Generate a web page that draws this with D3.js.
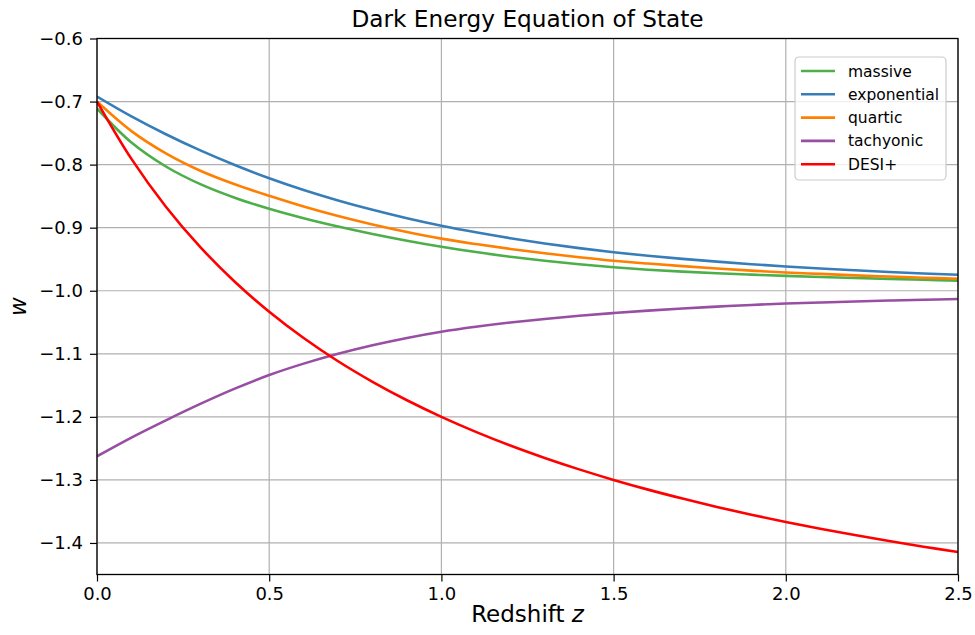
<!DOCTYPE html>
<html>
<head>
<meta charset="utf-8">
<script src="https://cdn.jsdelivr.net/npm/d3@7"></script>
<style>
  html, body { margin: 0; padding: 0; background: #fff; }
  svg { display: block; font-family: "DejaVu Sans", sans-serif; }
</style>
</head>
<body>
<svg id="chart" width="975" height="635"></svg>
<script>
// Redshift grid shared by all curves
const redshift = [0.0, 0.1, 0.2, 0.3, 0.4, 0.5, 0.6, 0.7, 0.8, 0.9, 1.0, 1.1, 1.2,
                  1.3, 1.4, 1.5, 1.6, 1.7, 1.8, 1.9, 2.0, 2.1, 2.2, 2.3, 2.4, 2.5];

// Equation-of-state w(z) for each model
const massive = [-0.711, -0.7650, -0.8030, -0.8310, -0.8525, -0.8700, -0.8850, -0.8982,
                 -0.9100, -0.9206, -0.9302, -0.9387, -0.9461, -0.9525, -0.9580, -0.9628,
                 -0.9666, -0.9697, -0.9723, -0.9745, -0.9764, -0.9781, -0.9797, -0.9812,
                 -0.9826, -0.9839];
const exponential = [-0.692, -0.7235, -0.7518, -0.7775, -0.8006, -0.8216, -0.8402, -0.8568,
                     -0.8717, -0.8851, -0.8970, -0.9074, -0.9167, -0.9250, -0.9324, -0.9390,
                     -0.9446, -0.9495, -0.9539, -0.9579, -0.9615, -0.9647, -0.9675, -0.9702,
                     -0.9726, -0.9747];
const quartic = [-0.700, -0.7469, -0.7822, -0.8097, -0.8312, -0.8495, -0.8665, -0.8816,
                 -0.8950, -0.9069, -0.9174, -0.9260, -0.9337, -0.9406, -0.9468, -0.9524,
                 -0.9569, -0.9610, -0.9647, -0.9681, -0.9710, -0.9733, -0.9756, -0.9775,
                 -0.9794, -0.9810];
const tachyonic = [-1.2625, -1.2328, -1.2055, -1.1795, -1.1553, -1.1337, -1.1156, -1.1000,
                   -1.0865, -1.0748, -1.0650, -1.0571, -1.0504, -1.0447, -1.0397, -1.0354,
                   -1.0315, -1.0281, -1.0252, -1.0225, -1.0203, -1.0186, -1.0170, -1.0156,
                   -1.0143, -1.0132];
const desiPlus = [-0.7000, -0.7909, -0.8667, -0.9308, -0.9857, -1.0333, -1.0750, -1.1118,
                  -1.1444, -1.1737, -1.2000, -1.2238, -1.2455, -1.2652, -1.2833, -1.3000,
                  -1.3154, -1.3296, -1.3429, -1.3552, -1.3667, -1.3774, -1.3875, -1.3970,
                  -1.4059, -1.4143];

const seriesNames = ["massive", "exponential", "quartic", "tachyonic", "DESI+"];
const seriesValues = [massive, exponential, quartic, tachyonic, desiPlus];
const seriesColors = ["#4daf4a", "#377eb8", "#ff7f00", "#984ea3", "#ff0000"];

const xTicks = [0.0, 0.5, 1.0, 1.5, 2.0, 2.5];
const yTicks = [-0.6, -0.7, -0.8, -0.9, -1.0, -1.1, -1.2, -1.3, -1.4];

const titleText = "Dark Energy Equation of State";

// ---- layout ----
const margin = { left: 97, right: 17, top: 38.5, bottom: 60.5 };
const W = 975, H = 635;
const pw = W - margin.left - margin.right;
const ph = H - margin.top - margin.bottom;

const svg = d3.select("#chart");
const g = svg.append("g").attr("transform", `translate(${margin.left},${margin.top})`);

const x = d3.scaleLinear().domain([0, 2.5]).range([0, pw]);
const y = d3.scaleLinear().domain([-1.45, -0.6]).range([ph, 0]);

const fmt = v => d3.format(".1f")(v).replace("-", "\u2212");

// grid
g.append("g").selectAll("line").data(xTicks).join("line")
  .attr("x1", d => x(d)).attr("x2", d => x(d))
  .attr("y1", 0).attr("y2", ph)
  .attr("stroke", "#b0b0b0").attr("stroke-width", 1.2);
g.append("g").selectAll("line").data(yTicks).join("line")
  .attr("x1", 0).attr("x2", pw)
  .attr("y1", d => y(d)).attr("y2", d => y(d))
  .attr("stroke", "#b0b0b0").attr("stroke-width", 1.2);

// clip for curves
svg.append("defs").append("clipPath").attr("id", "plotclip")
  .append("rect").attr("x", 0).attr("y", 0).attr("width", pw).attr("height", ph);

const line = d3.line()
  .x((d, i) => x(redshift[i]))
  .y(d => y(d))
  .curve(d3.curveCatmullRom.alpha(0.5));

const curves = g.append("g").attr("clip-path", "url(#plotclip)");
seriesValues.forEach((vals, k) => {
  curves.append("path")
    .attr("d", line(vals))
    .attr("fill", "none")
    .attr("stroke", seriesColors[k])
    .attr("stroke-width", 2.6)
    .attr("stroke-linejoin", "round")
    .attr("stroke-linecap", "butt");
});

// axes
const xAxis = d3.axisBottom(x).tickValues(xTicks).tickFormat(fmt).tickSize(7).tickPadding(6);
const yAxis = d3.axisLeft(y).tickValues(yTicks).tickFormat(fmt).tickSize(7).tickPadding(7);

const gx = g.append("g").attr("transform", `translate(0,${ph})`).call(xAxis);
const gy = g.append("g").call(yAxis);
[gx, gy].forEach(a => {
  a.select(".domain").remove();
  a.selectAll(".tick line").attr("stroke", "#000").attr("stroke-width", 1.2);
  a.selectAll(".tick text").attr("fill", "#000")
    .style("font-family", "DejaVu Sans, sans-serif").style("font-size", "18px");
});

// spines
g.append("rect").attr("x", 0).attr("y", 0).attr("width", pw).attr("height", ph)
  .attr("fill", "none").attr("stroke", "#000").attr("stroke-width", 1.3);

// title and axis labels
svg.append("text")
  .attr("x", margin.left + pw / 2).attr("y", 27)
  .attr("text-anchor", "middle")
  .style("font-size", "23.2px")
  .text(titleText);

const xl = svg.append("text")
  .attr("x", margin.left + pw / 2).attr("y", 622)
  .attr("text-anchor", "middle")
  .style("font-size", "23px");
xl.append("tspan").text("Redshift ");
xl.append("tspan").style("font-style", "italic").text("z");

svg.append("text")
  .attr("transform", `translate(26,${margin.top + ph / 2}) rotate(-90)`)
  .attr("text-anchor", "middle")
  .style("font-size", "23px")
  .style("font-style", "italic")
  .text("w");

// legend
const lg = g.append("g").attr("transform", `translate(${pw - 163},${18.5})`);
lg.append("rect")
  .attr("x", 0).attr("y", 0).attr("width", 151).attr("height", 123)
  .attr("rx", 4).attr("ry", 4)
  .attr("fill", "#fff").attr("fill-opacity", 0.8)
  .attr("stroke", "#cccccc").attr("stroke-width", 1.2);
seriesNames.forEach((name, k) => {
  const yy = 14 + k * 23.3;
  lg.append("line")
    .attr("x1", 6).attr("x2", 40).attr("y1", yy).attr("y2", yy)
    .attr("stroke", seriesColors[k]).attr("stroke-width", 2.6);
  lg.append("text")
    .attr("x", 53).attr("y", yy + 5.5)
    .style("font-size", "15.5px")
    .text(name);
});
</script>
</body>
</html>
